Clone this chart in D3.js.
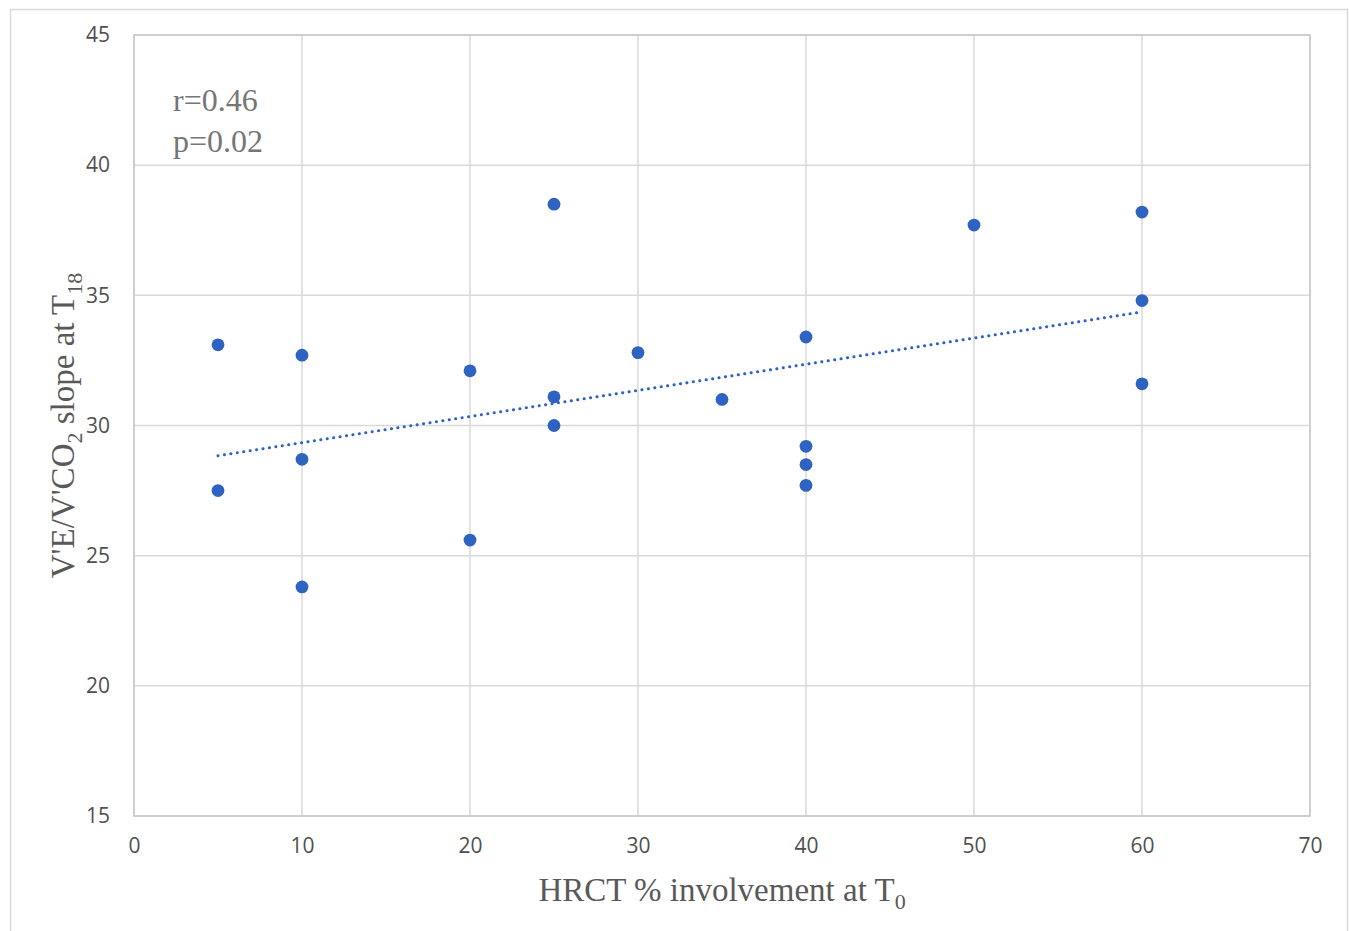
<!DOCTYPE html>
<html>
<head>
<meta charset="utf-8">
<script src="https://cdn.jsdelivr.net/npm/d3@7/dist/d3.min.js"></script>
<style>
  html, body { margin: 0; padding: 0; background: #fff; }
  svg { display: block; }
</style>
</head>
<body>
<svg id="chart" width="1349" height="931"></svg>
<script>
// HRCT involvement at baseline vs. ventilatory efficiency slope at 18 months
const hrctInvolvement = [5, 5, 10, 10, 10, 20, 20, 25, 25, 25, 30, 35, 40, 40, 40, 40, 50, 60, 60, 60];
const veVco2Slope     = [33.1, 27.5, 32.7, 28.7, 23.8, 32.1, 25.6, 38.5, 31.1, 30.0, 32.8, 31.0, 33.4, 29.2, 28.5, 27.7, 37.7, 38.2, 34.8, 31.6];
const xTicks = [0, 10, 20, 30, 40, 50, 60, 70];
const yTicks = [15, 20, 25, 30, 35, 40, 45];
const statLines = ["r=0.46", "p=0.02"];

const plot = { left: 134, right: 1310, top: 35, bottom: 816 };

const svg = d3.select("#chart");

// outer chart frame
svg.append("rect")
  .attr("x", 10.5).attr("y", 9.5)
  .attr("width", 1337).attr("height", 940)
  .attr("fill", "none").attr("stroke", "#d9d9d9").attr("stroke-width", 1.5);

const x = d3.scaleLinear().domain([0, 70]).range([plot.left, plot.right]);
const y = d3.scaleLinear().domain([15, 45]).range([plot.bottom, plot.top]);

// gridlines
const grid = svg.append("g").attr("stroke", "#d9d9d9").attr("stroke-width", 1.5);
grid.selectAll("line.v").data(xTicks).join("line")
  .attr("x1", d => x(d)).attr("x2", d => x(d))
  .attr("y1", plot.top).attr("y2", plot.bottom);
grid.selectAll("line.h").data(yTicks).join("line")
  .attr("x1", plot.left).attr("x2", plot.right)
  .attr("y1", d => y(d)).attr("y2", d => y(d));

// plot area border
svg.append("rect")
  .attr("x", plot.left).attr("y", plot.top)
  .attr("width", plot.right - plot.left).attr("height", plot.bottom - plot.top)
  .attr("fill", "none").attr("stroke", "#c8c8c8").attr("stroke-width", 1.5);

// axes (labels only, lines drawn by the grid/border)
const tickFont = "'Open Sans', 'Liberation Sans', sans-serif";
const xAxis = svg.append("g")
  .attr("transform", `translate(0,${plot.bottom})`)
  .call(d3.axisBottom(x).tickValues(xTicks).tickSize(0).tickPadding(22).tickFormat(d3.format("d")));
const yAxis = svg.append("g")
  .attr("transform", `translate(${plot.left},0)`)
  .call(d3.axisLeft(y).tickValues(yTicks).tickSize(0).tickPadding(24).tickFormat(d3.format("d")));
[xAxis, yAxis].forEach(a => {
  a.select(".domain").remove();
  a.selectAll("text")
    .attr("fill", "#505050")
    .style("font-family", tickFont)
    .style("font-size", "21px");
});

// least-squares trend line across the observed x range
const n = hrctInvolvement.length;
const mx = d3.mean(hrctInvolvement), my = d3.mean(veVco2Slope);
let sxy = 0, sxx = 0;
for (let i = 0; i < n; i++) {
  sxy += (hrctInvolvement[i] - mx) * (veVco2Slope[i] - my);
  sxx += (hrctInvolvement[i] - mx) ** 2;
}
const slope = sxy / sxx, intercept = my - slope * mx;
const [xMin, xMax] = d3.extent(hrctInvolvement);
svg.append("line")
  .attr("x1", x(xMin)).attr("y1", y(intercept + slope * xMin))
  .attr("x2", x(xMax)).attr("y2", y(intercept + slope * xMax))
  .attr("stroke", "#2e63c1").attr("stroke-width", 3)
  .attr("stroke-linecap", "round").attr("stroke-dasharray", "0.1 6.4");

// data points
svg.append("g").selectAll("circle")
  .data(hrctInvolvement.map((v, i) => [v, veVco2Slope[i]]))
  .join("circle")
  .attr("cx", d => x(d[0])).attr("cy", d => y(d[1]))
  .attr("r", 6.4).attr("fill", "#2e63c1");

// correlation annotation
const serif = "'Liberation Serif', 'DejaVu Serif', serif";
svg.append("g").selectAll("text").data(statLines).join("text")
  .attr("x", 173).attr("y", (d, i) => 111 + i * 41)
  .attr("fill", "#767676")
  .style("font-family", serif).style("font-size", "32px")
  .text(d => d);

// x-axis title
const xt = svg.append("text")
  .attr("x", (plot.left + plot.right) / 2).attr("y", 901)
  .attr("text-anchor", "middle").attr("fill", "#595959")
  .style("font-family", serif).style("font-size", "33px");
xt.append("tspan").text("HRCT % involvement at T");
xt.append("tspan").attr("dy", 8).style("font-size", "22px").text("0");

// y-axis title
const yt = svg.append("text")
  .attr("transform", `translate(74,${(plot.top + plot.bottom) / 2}) rotate(-90)`)
  .attr("text-anchor", "middle").attr("fill", "#595959")
  .style("font-family", serif).style("font-size", "33px");
yt.append("tspan").text("V'E/V'CO");
yt.append("tspan").attr("dy", 8).style("font-size", "22px").text("2");
yt.append("tspan").attr("dy", -8).text(" slope at T");
yt.append("tspan").attr("dy", 8).style("font-size", "22px").text("18");
</script>
</body>
</html>
